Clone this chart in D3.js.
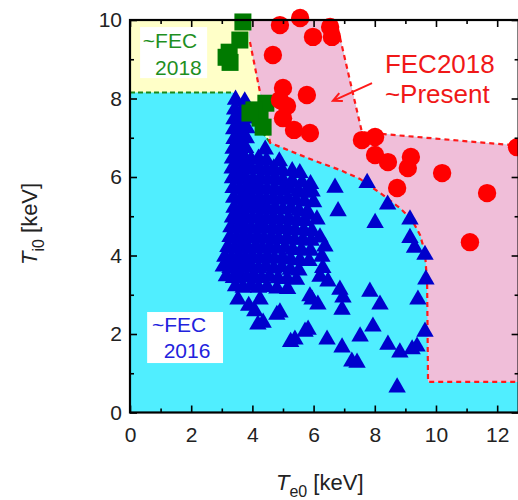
<!DOCTYPE html>
<html>
<head>
<meta charset="utf-8">
<title>Te0 - Ti0</title>
<style>
  body { margin: 0; background: #fff; }
  svg { display: block; font-family: "Liberation Sans", Arial, sans-serif; }
  .axis text { font-size: 21px; fill: #222; }
  .axis line { stroke: #000; stroke-width: 1.6; }
</style>
</head>
<body>
<svg width="518" height="500"></svg>
<script src="https://cdn.jsdelivr.net/npm/d3@7"></script>
<script>
// data points [Te0, Ti0] in keV
const fec2016 = [
  [3.45, 7.97], [3.75, 7.93],
  [3.42, 7.72], [3.64, 7.68],
  [3.4, 7.47], [3.6, 7.43], [3.84, 7.49],
  [3.39, 7.22], [3.6, 7.18], [3.82, 7.24],
  [3.4, 6.97], [3.58, 6.93], [3.8, 6.99],
  [3.37, 6.72], [3.57, 6.68], [3.78, 6.74], [4.42, 6.7],
  [3.35, 6.47], [3.54, 6.43], [3.75, 6.49], [3.96, 6.44], [4.2, 6.47], [4.46, 6.42], [4.88, 6.4],
  [3.34, 6.22], [3.55, 6.18], [3.76, 6.24], [3.98, 6.19], [4.22, 6.23], [4.46, 6.18], [4.7, 6.22], [4.98, 6.16], [5.3, 6.15], [5.55, 6.1],
  [3.35, 5.97], [3.56, 5.93], [3.78, 5.99], [4.02, 5.94], [4.26, 5.98], [4.5, 5.93], [4.74, 5.97], [5.0, 5.92], [5.3, 5.9], [5.62, 5.86], [5.9, 5.82],
  [3.37, 5.72], [3.58, 5.68], [3.8, 5.74], [4.02, 5.69], [4.24, 5.73], [4.48, 5.68], [4.72, 5.72], [4.98, 5.67], [5.22, 5.7], [5.5, 5.64], [5.78, 5.6],
  [3.39, 5.47], [3.6, 5.43], [3.8, 5.49], [4.0, 5.44], [4.22, 5.48], [4.45, 5.43], [4.68, 5.47], [4.92, 5.42], [5.16, 5.45], [5.42, 5.4], [5.7, 5.38], [6.0, 5.36],
  [3.4, 5.22], [3.62, 5.18], [3.84, 5.24], [4.05, 5.19], [4.28, 5.23], [4.5, 5.18], [4.74, 5.22], [5.0, 5.17], [5.26, 5.2], [5.52, 5.14], [5.8, 5.12],
  [3.35, 4.97], [3.56, 4.93], [3.78, 4.99], [4.0, 4.94], [4.22, 4.98], [4.45, 4.93], [4.68, 4.97], [4.92, 4.92], [5.18, 4.95], [5.45, 4.9], [5.72, 4.88],
  [3.3, 4.72], [3.52, 4.68], [3.74, 4.74], [3.96, 4.69], [4.2, 4.73], [4.42, 4.68], [4.66, 4.72], [4.9, 4.67], [5.14, 4.7], [5.4, 4.65], [5.68, 4.64], [5.95, 4.62],
  [3.27, 4.47], [3.48, 4.43], [3.7, 4.49], [3.92, 4.44], [4.15, 4.48], [4.38, 4.43], [4.62, 4.47], [4.86, 4.42], [5.12, 4.45], [5.38, 4.4], [5.65, 4.4], [5.92, 4.38],
  [3.2, 4.22], [3.42, 4.18], [3.64, 4.24], [3.86, 4.19], [4.1, 4.23], [4.32, 4.18], [4.56, 4.22], [4.8, 4.17], [5.06, 4.2], [5.32, 4.15], [5.6, 4.14], [5.9, 4.12],
  [3.1, 3.97], [3.32, 3.93], [3.55, 3.99], [3.78, 3.94], [4.0, 3.98], [4.24, 3.93], [4.48, 3.97], [4.72, 3.92], [4.98, 3.95], [5.25, 3.9], [5.55, 3.88], [5.85, 3.86],
  [3.05, 3.72], [3.27, 3.68], [3.5, 3.74], [3.72, 3.69], [3.95, 3.73], [4.2, 3.68], [4.44, 3.72], [4.7, 3.67], [4.96, 3.7], [5.24, 3.64], [5.52, 3.62],
  [3.15, 3.47], [3.38, 3.43], [3.6, 3.49], [3.82, 3.44], [4.05, 3.48], [4.3, 3.43], [4.56, 3.46], [4.84, 3.42], [5.14, 3.4], [5.44, 3.38],
  [3.45, 3.22], [3.7, 3.18], [3.95, 3.23], [4.2, 3.18], [4.48, 3.2], [4.8, 3.16], [5.15, 3.15],
  [3.53, 2.88], [4.25, 2.88], [5.95, 2.88], [3.88, 2.72], [4.08, 2.58], [4.35, 2.29], [4.18, 2.24],
  [4.9, 2.55], [4.8, 2.49], [5.39, 1.86], [5.25, 1.8], [5.82, 2.11], [5.72, 2.06],
  [5.95, 5.63], [6.11, 4.92], [5.82, 5.04], [6.21, 4.46], [6.37, 4.23], [6.27, 3.97], [6.3, 3.68],
  [6.21, 3.46], [6.47, 3.34], [6.7, 5.73], [6.8, 5.13], [7.75, 5.85], [8.42, 5.3], [8.01, 4.83],
  [9.15, 4.92], [9.15, 4.45], [9.3, 4.2], [9.64, 4.02], [9.67, 3.39], [9.41, 2.88], [9.64, 2.06],
  [9.38, 1.68], [9.22, 1.61], [8.82, 1.53], [8.43, 1.73], [7.94, 2.19], [7.52, 1.94], [6.93, 1.66],
  [6.44, 1.86], [7.25, 1.3], [7.42, 1.27], [8.73, 0.64], [7.84, 3.08], [8.17, 2.75], [6.86, 3.13],
  [6.96, 2.93], [6.93, 2.62], [5.88, 2.96], [6.14, 2.75]
];

const fec2018 = [
  [3.69, 9.95], [3.59, 9.49], [3.24, 9.18], [3.27, 8.92], [3.14, 9.05],
  [4.44, 7.88], [4.05, 7.71], [4.25, 7.5], [4.35, 7.27], [3.92, 7.63]
];

const fecPresent = [
  [4.9, 9.87], [5.56, 10.05], [5.98, 9.57], [6.54, 9.82], [6.6, 9.57], [4.67, 9.11],
  [5.0, 8.27], [5.78, 8.09], [4.9, 7.96], [5.13, 7.81], [5.0, 7.5], [5.36, 7.2],
  [5.88, 7.12], [7.58, 6.94], [8.01, 7.02], [8.01, 6.56], [8.43, 6.38], [9.18, 6.51],
  [9.08, 6.23], [10.2, 6.1], [8.73, 5.72], [11.67, 5.59], [11.11, 4.34], [12.65, 6.76]
];

// shaded domains (keV)
const zone2018 = [[0, 10], [3.86, 10], [3.92, 9.44], [4.58, 6.87], [3.37, 8.15], [0, 8.15]];
const zone2018Edge = [[0, 8.15], [3.37, 8.15], [4.58, 6.87]];
const zonePresent = [[3.86, 10], [3.92, 9.44], [4.58, 6.87], [5.98, 6.43], [6.86, 6.18], [7.52, 5.95],
  [8.27, 5.54], [8.82, 5.21], [9.22, 4.9], [9.48, 4.52], [9.64, 4.08], [9.71, 3.3], [9.74, 0.78],
  [12.7, 0.78], [12.7, 6.78], [12.52, 6.81], [7.58, 7.14], [6.73, 10]];
const presentLower = [[3.92, 9.44], [4.58, 6.87], [5.98, 6.43], [6.86, 6.18], [7.52, 5.95],
  [8.27, 5.54], [8.82, 5.21], [9.22, 4.9], [9.48, 4.52], [9.64, 4.08], [9.71, 3.3], [9.74, 0.78], [12.7, 0.78]];
const presentUpper = [[6.73, 10], [7.58, 7.14], [12.52, 6.81], [12.7, 6.78]];
const zoneEmpty = [[6.73, 10], [7.58, 7.14], [12.52, 6.81], [12.7, 6.78], [12.7, 10]];

const xMajor = [0, 2, 4, 6, 8, 10, 12];
const xMinor = [1, 3, 5, 7, 9, 11];
const yMajor = [0, 2, 4, 6, 8, 10];
const yMinor = [1, 3, 5, 7, 9];

const svg = d3.select("svg");
const x = d3.scaleLinear().domain([0, 12.7]).range([130, 518.6]);
const y = d3.scaleLinear().domain([0, 10]).range([412.5, 20]);
const line = d3.line().x(d => x(d[0])).y(d => y(d[1]));

// background domains
svg.append("rect")
  .attr("x", x(0)).attr("y", y(10))
  .attr("width", x(12.7) - x(0)).attr("height", y(0) - y(10))
  .attr("fill", "#50eeff");
svg.append("path").attr("d", line(zone2018) + "Z").attr("fill", "#ffffc8");
svg.append("path").attr("d", line(zoneEmpty) + "Z").attr("fill", "#fff");
svg.append("path").attr("d", line(zonePresent) + "Z").attr("fill", "#f0bed9");

svg.append("path").attr("d", line(zone2018Edge))
  .attr("fill", "none").attr("stroke", "#1a8a1a").attr("stroke-width", 2)
  .attr("stroke-dasharray", "5,3");
[presentLower, presentUpper].forEach(p => {
  svg.append("path").attr("d", line(p))
    .attr("fill", "none").attr("stroke", "#ff1a1a").attr("stroke-width", 2.2)
    .attr("stroke-dasharray", "5,4");
});

// markers
svg.append("g").selectAll("path")
  .data(fec2016).enter().append("path")
  .attr("d", d3.symbol(d3.symbolTriangle, 132))
  .attr("transform", d => `translate(${x(d[0])},${y(d[1])})`)
  .attr("fill", "#0000cc");

svg.append("g").selectAll("rect")
  .data(fec2018).enter().append("rect")
  .attr("x", d => x(d[0]) - 8.5).attr("y", d => y(d[1]) - 8.5)
  .attr("width", 17).attr("height", 17)
  .attr("fill", "#007a00");

svg.append("g").selectAll("circle")
  .data(fecPresent).enter().append("circle")
  .attr("cx", d => x(d[0])).attr("cy", d => y(d[1]))
  .attr("r", 9.2)
  .attr("fill", "#ff0000");

// labels
function boxLabel(x0, y0, x1, y1, lines, color) {
  svg.append("rect")
    .attr("x", x(x0)).attr("y", y(y0))
    .attr("width", x(x1) - x(x0)).attr("height", y(y1) - y(y0))
    .attr("fill", "#fff");
  lines.forEach(l => {
    svg.append("text")
      .attr("x", x(l[0])).attr("y", y(l[1]))
      .attr("font-size", 21).attr("fill", color)
      .text(l[2]);
  });
}
boxLabel(0.33, 9.82, 2.52, 8.52, [[0.42, 9.29, "~FEC"], [0.82, 8.6, "2018"]], "#1f8f1f");
boxLabel(0.56, 2.56, 3.04, 1.26, [[0.72, 2.05, "~FEC"], [1.1, 1.38, "2016"]], "#2222dd");

svg.append("text").attr("x", x(8.33)).attr("y", y(8.65))
  .attr("font-size", 26).attr("fill", "#f01818").text("FEC2018");
svg.append("text").attr("x", x(8.33)).attr("y", y(7.89))
  .attr("font-size", 26).attr("fill", "#f01818").text("~Present");

// arrow
const arrowFrom = [7.91, 8.39], arrowTo = [6.63, 7.94];
const ax0 = x(arrowFrom[0]), ay0 = y(arrowFrom[1]), ax1 = x(arrowTo[0]), ay1 = y(arrowTo[1]);
const ang = Math.atan2(ay1 - ay0, ax1 - ax0);
svg.append("path")
  .attr("d", `M${ax0},${ay0}L${ax1},${ay1}` +
    `M${ax1 - 10 * Math.cos(ang - 0.45)},${ay1 - 10 * Math.sin(ang - 0.45)}L${ax1},${ay1}` +
    `L${ax1 - 10 * Math.cos(ang + 0.45)},${ay1 - 10 * Math.sin(ang + 0.45)}`)
  .attr("fill", "none").attr("stroke", "#ff1a1a").attr("stroke-width", 2);

// axes
svg.append("g").attr("class", "axis").attr("transform", `translate(0,${y(0)})`)
  .call(d3.axisBottom(x).tickValues(xMajor).tickSize(-7).tickPadding(14.5));
svg.append("g").attr("class", "axis").attr("transform", `translate(0,${y(0)})`)
  .call(d3.axisBottom(x).tickValues(xMinor).tickSize(-4).tickFormat(""));
svg.append("g").attr("class", "axis").attr("transform", `translate(0,${y(10)})`)
  .call(d3.axisTop(x).tickValues(xMajor).tickSize(-7).tickFormat(""));
svg.append("g").attr("class", "axis").attr("transform", `translate(0,${y(10)})`)
  .call(d3.axisTop(x).tickValues(xMinor).tickSize(-4).tickFormat(""));
svg.append("g").attr("class", "axis").attr("transform", `translate(${x(0)},0)`)
  .call(d3.axisLeft(y).tickValues(yMajor).tickSize(-7).tickPadding(8));
svg.append("g").attr("class", "axis").attr("transform", `translate(${x(0)},0)`)
  .call(d3.axisLeft(y).tickValues(yMinor).tickSize(-4).tickFormat(""));
svg.append("g").attr("class", "axis").attr("transform", `translate(${x(12.7)},0)`)
  .call(d3.axisRight(y).tickValues(yMajor).tickSize(-7).tickFormat(""));
svg.append("g").attr("class", "axis").attr("transform", `translate(${x(12.7)},0)`)
  .call(d3.axisRight(y).tickValues(yMinor).tickSize(-4).tickFormat(""));
svg.selectAll(".axis .domain").remove();

svg.append("rect")
  .attr("x", x(0)).attr("y", y(10))
  .attr("width", x(12.7) - x(0)).attr("height", y(0) - y(10))
  .attr("fill", "none").attr("stroke", "#000").attr("stroke-width", 2.2);

// axis titles
const xt = svg.append("text").attr("x", 276).attr("y", 490).attr("font-size", 22).attr("fill", "#222");
xt.append("tspan").attr("font-style", "italic").text("T");
xt.append("tspan").attr("font-size", 16).attr("dy", 7).text("e0");
xt.append("tspan").attr("dy", -7).text(" [keV]");

const yt = svg.append("text").attr("transform", "translate(37,265) rotate(-90)")
  .attr("font-size", 22).attr("fill", "#222");
yt.append("tspan").attr("font-style", "italic").text("T");
yt.append("tspan").attr("font-size", 16).attr("dy", 7).text("i0");
yt.append("tspan").attr("dy", -7).text(" [keV]");
</script>
</body>
</html>
